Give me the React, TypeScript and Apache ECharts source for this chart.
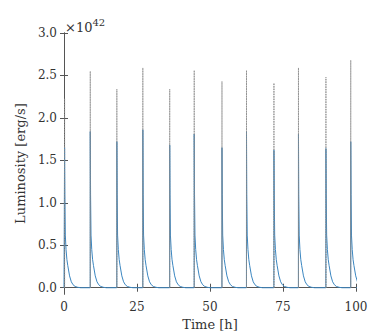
import React, { useEffect, useRef } from "react";
import * as echarts from "echarts";

// Flare onset times [h] and peak luminosities [1e42 erg/s]
const flareTimes = [0.2, 9.0, 18.1, 27.0, 36.2, 44.6, 54.1, 62.5, 71.9, 80.3, 89.7, 98.2];
const bluePeaks = [1.65, 1.84, 1.72, 1.86, 1.68, 1.81, 1.65, 1.84, 1.62, 1.81, 1.64, 1.72];
const greyPeaks = [2.23, 2.55, 2.34, 2.59, 2.34, 2.56, 2.43, 2.56, 2.41, 2.59, 2.48, 2.68];
// Decay tail after each peak (hours after peak, luminosity)
const tailOffsets = [0.1, 0.25, 0.5, 0.8, 1.1, 1.7, 2.3, 2.9, 3.6, 4.5, 5.5];
const tailValues = [1.1, 0.62, 0.45, 0.33, 0.26, 0.14, 0.07, 0.035, 0.015, 0.005, 0.0];
const yTicks = [0, 0.5, 1.0, 1.5, 2.0, 2.5, 3.0];

const FONT = "DejaVu Serif";

export default function App() {
  const ref = useRef<HTMLDivElement>(null);
  useEffect(() => {
    if (!ref.current) return;
    const chart = echarts.init(ref.current, null, { renderer: "svg" });

    const blue: any[] = [[0, 0]];
    const grey: any[] = [];
    flareTimes.forEach((t0, i) => {
      blue.push([t0 - 0.02, 0]);
      blue.push([t0, bluePeaks[i]]);
      tailOffsets.forEach((dt, j) => blue.push([t0 + dt, tailValues[j]]));
      grey.push([t0, 0]);
      grey.push([t0, greyPeaks[i]]);
      grey.push([t0, 0]);
      grey.push([t0 + 0.01, "-"]);
    });
    blue.push([100, 0]);

    const axisLine = { show: true, lineStyle: { color: "#555", width: 1 } };
    const axisTick = { show: true, inside: false, length: 4, lineStyle: { color: "#555", width: 1 } };
    const txt = { fontFamily: FONT, color: "#333" };

    chart.setOption({
      animation: false,
      textStyle: { fontFamily: FONT },
      grid: { left: 64, right: 18, top: 33, bottom: 41, containLabel: false },
      xAxis: [
        {
          type: "value",
          min: 0,
          max: 100,
          interval: 25,
          position: "bottom",
          name: "Time [h]",
          nameLocation: "middle",
          nameGap: 23,
          nameTextStyle: { ...txt, fontSize: 13 },
          axisLine,
          axisTick,
          splitLine: { show: false },
          axisLabel: { ...txt, fontSize: 12, margin: 7 },
        },
        {
          type: "value",
          min: 0,
          max: 100,
          interval: 25,
          position: "top",
          axisLine,
          axisTick,
          splitLine: { show: false },
          axisLabel: { show: false },
        },
      ],
      yAxis: [
        {
          type: "value",
          min: -0.075,
          max: 3.0,
          position: "left",
          name: "Luminosity [erg/s]",
          nameLocation: "middle",
          nameGap: 28,
          nameTextStyle: { ...txt, fontSize: 13 },
          axisLine,
          axisTick: { ...axisTick, customValues: yTicks },
          splitLine: { show: false },
          axisLabel: {
            ...txt,
            fontSize: 12,
            margin: 7,
            customValues: yTicks,
            formatter: (v: number) => v.toFixed(1),
          },
        },
        {
          type: "value",
          min: -0.075,
          max: 3.0,
          position: "right",
          axisLine,
          axisTick: { ...axisTick, customValues: yTicks },
          splitLine: { show: false },
          axisLabel: { show: false, customValues: yTicks },
        },
      ],
      graphic: [
        {
          type: "text",
          left: 65,
          top: 17,
          style: {
            text: "{a|×10}{b|42}",
            rich: {
              a: { fontFamily: FONT, fontSize: 13, fill: "#333", verticalAlign: "bottom" },
              b: { fontFamily: FONT, fontSize: 10, fill: "#333", verticalAlign: "top", padding: [0, 0, 7, 0] },
            },
          },
        },
      ],
      series: [
        {
          type: "line",
          data: blue,
          showSymbol: false,
          symbol: "none",
          lineStyle: { color: "#3b86c0", width: 1 },
          z: 2,
        },
        {
          type: "line",
          data: grey,
          showSymbol: false,
          symbol: "none",
          connectNulls: false,
          lineStyle: { color: "#8a8a8a", width: 1, type: [1.5, 1], opacity: 0.85 },
          z: 3,
        },
      ],
    });
    return () => chart.dispose();
  }, []);
  return <div ref={ref} style={{ position: "absolute", left: 0, top: 0, width: 374, height: 336 }} />;
}
